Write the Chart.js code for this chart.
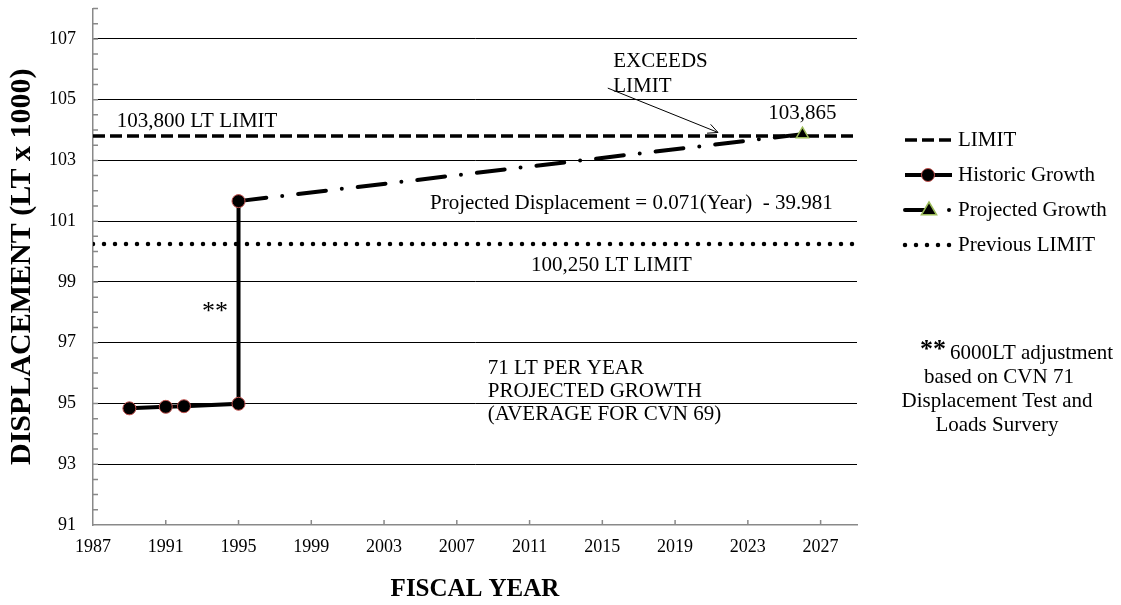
<!DOCTYPE html>
<html>
<head>
<meta charset="utf-8">
<script src="https://cdn.jsdelivr.net/npm/chart.js@4.4.1/dist/chart.umd.min.js"></script>
<style>
  body { margin: 0; background: #fff; }
  canvas { display: block; }
</style>
</head>
<body>
<canvas id="displacementChart" width="1121" height="605"></canvas>
<script>
// axis ticks
const xTicks = [1987, 1991, 1995, 1999, 2003, 2007, 2011, 2015, 2019, 2023, 2027];
const yTicks = [91, 93, 95, 97, 99, 101, 103, 105, 107];

// series (displacement in LT x 1000)
const historicYears = [1989, 1991, 1992, 1995, 1995];
const historicDisp = [94.84, 94.89, 94.91, 94.99, 101.66];
const projectedYears = [1995, 2026];
const projectedDisp = [101.66, 103.865];
const limitYears = [1987, 2029];
const limitDisp = [103.8, 103.8];
const prevLimitDisp = [100.25, 100.25];

const serif = "'Liberation Serif', 'Times New Roman', serif";
const toPoints = (xs, ys) => xs.map((x, i) => ({ x: x, y: ys[i] }));

// text notes placed in data units
const chartNotes = [
  { text: '103,800 LT LIMIT', x: 1988.3, y: 104.29, align: 'left' },
  { text: 'EXCEEDS', x: 2015.6, y: 106.26, align: 'left' },
  { text: 'LIMIT', x: 2015.6, y: 105.44, align: 'left' },
  { text: '103,865', x: 2026.0, y: 104.55, align: 'center' },
  { text: 'Projected Displacement = 0.071(Year)  - 39.981', x: 2016.6, y: 101.57, align: 'center' },
  { text: '100,250 LT LIMIT', x: 2015.5, y: 99.55, align: 'center' },
  { text: '71 LT PER YEAR', x: 2008.7, y: 96.15, align: 'left' },
  { text: 'PROJECTED GROWTH', x: 2008.7, y: 95.4, align: 'left' },
  { text: '(AVERAGE FOR CVN 69)', x: 2008.7, y: 94.64, align: 'left' }
];

function drawMarker(ctx, style, x, y, r, fill, stroke, bw) {
  ctx.beginPath();
  if (style === 'triangle') {
    ctx.moveTo(x, y - r);
    ctx.lineTo(x + r * 0.95, y + r * 0.6);
    ctx.lineTo(x - r * 0.95, y + r * 0.6);
    ctx.closePath();
  } else {
    ctx.arc(x, y, r, 0, Math.PI * 2);
  }
  ctx.fillStyle = fill;
  ctx.fill();
  ctx.lineWidth = bw;
  ctx.strokeStyle = stroke;
  ctx.stroke();
}

const extras = {
  id: 'extras',
  afterDraw(chart) {
    const ctx = chart.ctx;
    const xs = chart.scales.x, ys = chart.scales.y, area = chart.chartArea;
    ctx.save();

    // inward tick marks
    ctx.strokeStyle = '#898989';
    ctx.lineWidth = 1.5;
    ctx.beginPath();
    xTicks.slice(1).forEach(v => {
      const px = xs.getPixelForValue(v);
      ctx.moveTo(px, area.bottom);
      ctx.lineTo(px, area.bottom - 5);
    });
    for (let v = 91.5; v <= 108; v += 0.5) {
      const py = ys.getPixelForValue(v);
      ctx.moveTo(area.left, py);
      ctx.lineTo(area.left + 5, py);
    }
    ctx.stroke();

    // notes
    ctx.fillStyle = '#000';
    ctx.textBaseline = 'middle';
    ctx.font = '21px ' + serif;
    chartNotes.forEach(n => {
      ctx.textAlign = n.align;
      ctx.fillText(n.text, xs.getPixelForValue(n.x), ys.getPixelForValue(n.y));
    });
    ctx.font = '26px ' + serif;
    ctx.textAlign = 'center';
    ctx.fillText('**', xs.getPixelForValue(1993.7), ys.getPixelForValue(98.0));

    // arrow to the crossing point
    const ax0 = xs.getPixelForValue(2015.3), ay0 = ys.getPixelForValue(105.38);
    const ax1 = xs.getPixelForValue(2021.36), ay1 = ys.getPixelForValue(103.92);
    const ang = Math.atan2(ay1 - ay0, ax1 - ax0);
    ctx.strokeStyle = '#000';
    ctx.lineWidth = 1;
    ctx.beginPath();
    ctx.moveTo(ax0, ay0);
    ctx.lineTo(ax1, ay1);
    ctx.moveTo(ax1 - 11 * Math.cos(ang - 0.45), ay1 - 11 * Math.sin(ang - 0.45));
    ctx.lineTo(ax1, ay1);
    ctx.lineTo(ax1 - 11 * Math.cos(ang + 0.45), ay1 - 11 * Math.sin(ang + 0.45));
    ctx.stroke();

    // legend
    const lx0 = 905, lx1 = 952, ltx = 958;
    const rowY = [140, 175, 210, 245];
    chart.data.datasets.forEach((ds, i) => {
      const y = rowY[i];
      ctx.save();
      ctx.strokeStyle = ds.borderColor;
      ctx.lineWidth = ds.borderWidth;
      ctx.lineCap = ds.borderCapStyle || 'butt';
      ctx.setLineDash(ds.legendDash || ds.borderDash || []);
      ctx.beginPath();
      ctx.moveTo(lx0, y);
      ctx.lineTo(lx1, y);
      ctx.stroke();
      ctx.restore();
      if (ds.legendMarkerX) {
        drawMarker(ctx, ds.pointStyle, ds.legendMarkerX, y, ds.legendMarkerRadius,
          ds.pointBackgroundColor, ds.pointBorderColor, ds.pointBorderWidth);
      }
      ctx.fillStyle = '#000';
      ctx.textAlign = 'left';
      ctx.font = '21px ' + serif;
      ctx.fillText(ds.label, ltx, y);
    });

    // side note
    ctx.font = 'bold 26px ' + serif;
    ctx.textAlign = 'right';
    ctx.fillText('**', 946, 350);
    ctx.font = '21px ' + serif;
    ctx.textAlign = 'left';
    ctx.fillText('6000LT adjustment', 950, 353);
    ctx.textAlign = 'center';
    ctx.fillText('based on CVN 71', 999, 377);
    ctx.fillText('Displacement Test and', 997, 401);
    ctx.fillText('Loads Survery', 997, 425);

    ctx.restore();
  }
};

Chart.defaults.font.family = serif;
Chart.defaults.color = '#000';

new Chart(document.getElementById('displacementChart'), {
  type: 'line',
  data: {
    datasets: [
      {
        label: 'LIMIT',
        data: toPoints(limitYears, limitDisp),
        borderColor: '#000',
        borderWidth: 3.5,
        borderDash: [12, 5],
        pointRadius: 0,
        order: 2
      },
      {
        label: 'Historic Growth',
        data: toPoints(historicYears, historicDisp),
        borderColor: '#000',
        borderWidth: 4,
        pointStyle: 'circle',
        pointRadius: 6.5,
        pointBackgroundColor: '#000',
        pointBorderColor: '#C0504D',
        pointBorderWidth: 1,
        legendMarkerX: 928,
        legendMarkerRadius: 6.5,
        order: 0
      },
      {
        label: 'Projected Growth',
        data: toPoints(projectedYears, projectedDisp),
        borderColor: '#000',
        borderWidth: 4,
        borderCapStyle: 'round',
        borderDash: [28, 16, 0, 16],
        legendDash: [20, 24, 0, 20],
        pointStyle: 'triangle',
        pointRadius: [0, 7],
        pointBackgroundColor: '#000',
        pointBorderColor: '#9BBB59',
        pointBorderWidth: 1.5,
        legendMarkerX: 929,
        legendMarkerRadius: 8,
        order: 1
      },
      {
        label: 'Previous LIMIT',
        data: toPoints(limitYears, prevLimitDisp),
        borderColor: '#000',
        borderWidth: 4.5,
        borderCapStyle: 'round',
        borderDash: [0, 11],
        pointRadius: 0,
        order: 3
      }
    ]
  },
  options: {
    responsive: false,
    animation: false,
    layout: { padding: { top: 7, right: 264, left: 0, bottom: 0 } },
    plugins: {
      legend: { display: false },
      tooltip: { enabled: false }
    },
    scales: {
      x: {
        type: 'linear',
        min: 1987,
        max: 2029,
        afterBuildTicks: s => { s.ticks = xTicks.map(v => ({ value: v })); },
        afterFit: s => { s.height = 80; s.paddingLeft = 0; s.paddingRight = 0; },
        grid: { color: 'rgba(0,0,0,0)', drawTicks: false },
        border: { color: '#898989', width: 1.5 },
        ticks: { padding: 11, font: { size: 18 }, maxRotation: 0, callback: v => String(v) },
        title: { display: true, text: 'FISCAL YEAR', font: { size: 25, weight: 'bold' }, padding: { top: 0, bottom: 0 } }
      },
      y: {
        type: 'linear',
        min: 91,
        max: 108,
        afterBuildTicks: s => { s.ticks = yTicks.map(v => ({ value: v })); },
        afterFit: s => { s.width = 93; s.paddingTop = 0; s.paddingBottom = 0; },
        grid: {
          color: c => (c.tick && c.tick.value === 91 ? 'rgba(0,0,0,0)' : '#000'),
          lineWidth: 1,
          drawTicks: false
        },
        border: { color: '#898989', width: 1.5 },
        ticks: { padding: 17, font: { size: 18 } },
        title: { display: true, text: 'DISPLACEMENT (LT x 1000)', font: { size: 30, weight: 'bold' }, padding: { top: 4, bottom: 0 } }
      }
    }
  },
  plugins: [extras]
});
</script>
</body>
</html>
